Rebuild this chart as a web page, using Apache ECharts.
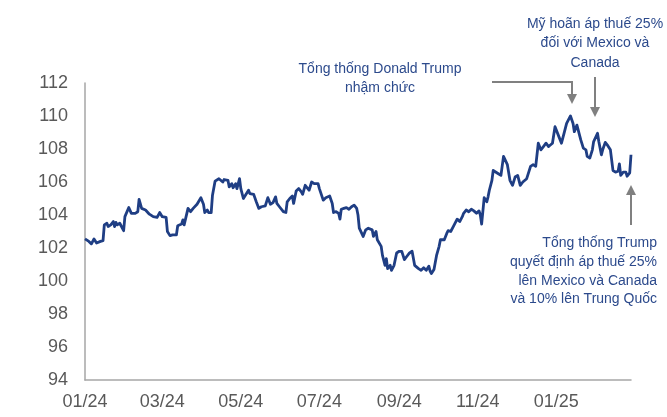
<!DOCTYPE html>
<html>
<head>
<meta charset="utf-8">
<script src="https://cdn.jsdelivr.net/npm/echarts@6/dist/echarts.min.js"></script>
<style>
  html, body { margin: 0; padding: 0; background: #ffffff; }
  #chart { width: 667px; height: 417px; }
</style>
</head>
<body>
<div id="chart"></div>
<script>
// US Dollar Index (DXY), daily closes 01/2024 – 02/2025
const dates = [
  '2024-01-01','2024-01-04','2024-01-06','2024-01-08','2024-01-10','2024-01-13','2024-01-15','2024-01-16',
  '2024-01-18','2024-01-19','2024-01-21','2024-01-23','2024-01-24','2024-01-25','2024-01-26','2024-01-28',
  '2024-01-29','2024-01-31','2024-02-01','2024-02-04','2024-02-06','2024-02-09','2024-02-11','2024-02-12',
  '2024-02-14','2024-02-17','2024-02-20','2024-02-23','2024-02-26','2024-02-28','2024-03-01','2024-03-04',
  '2024-03-05','2024-03-07','2024-03-09','2024-03-12','2024-03-13','2024-03-16','2024-03-17','2024-03-18',
  '2024-03-21','2024-03-23','2024-03-25','2024-03-28','2024-03-31','2024-04-02','2024-04-03','2024-04-05',
  '2024-04-06','2024-04-08','2024-04-09','2024-04-11','2024-04-14','2024-04-15','2024-04-17','2024-04-18',
  '2024-04-21','2024-04-22','2024-04-24','2024-04-25','2024-04-27','2024-04-28','2024-04-30','2024-05-01',
  '2024-05-03','2024-05-04','2024-05-07','2024-05-08','2024-05-11','2024-05-13','2024-05-15','2024-05-17',
  '2024-05-20','2024-05-22','2024-05-24','2024-05-26','2024-05-28','2024-05-29','2024-05-31','2024-06-03',
  '2024-06-05','2024-06-06','2024-06-08','2024-06-10','2024-06-11','2024-06-13','2024-06-15','2024-06-17',
  '2024-06-18','2024-06-20','2024-06-23','2024-06-25','2024-06-27','2024-06-30','2024-07-01','2024-07-04',
  '2024-07-06','2024-07-09','2024-07-11','2024-07-12','2024-07-14','2024-07-16','2024-07-17','2024-07-18',
  '2024-07-20','2024-07-22','2024-07-24','2024-07-26','2024-07-28','2024-07-30','2024-07-31','2024-08-01',
  '2024-08-04','2024-08-06','2024-08-08','2024-08-11','2024-08-12','2024-08-14','2024-08-15','2024-08-18',
  '2024-08-19','2024-08-21','2024-08-22','2024-08-23','2024-08-25','2024-08-26','2024-08-28','2024-08-30',
  '2024-09-01','2024-09-03','2024-09-05','2024-09-07','2024-09-09','2024-09-11','2024-09-13','2024-09-16',
  '2024-09-18','2024-09-20','2024-09-22','2024-09-24','2024-09-25','2024-09-26','2024-09-28','2024-09-30',
  '2024-10-02','2024-10-03','2024-10-06','2024-10-08','2024-10-09','2024-10-11','2024-10-13','2024-10-14',
  '2024-10-16','2024-10-18','2024-10-20','2024-10-21','2024-10-23','2024-10-25','2024-10-27','2024-10-29',
  '2024-10-31','2024-11-02','2024-11-03','2024-11-04','2024-11-06','2024-11-08','2024-11-09','2024-11-10',
  '2024-11-12','2024-11-13','2024-11-17','2024-11-19','2024-11-21','2024-11-24','2024-11-26','2024-11-28',
  '2024-11-30','2024-12-02','2024-12-04','2024-12-06','2024-12-09','2024-12-12','2024-12-14','2024-12-16',
  '2024-12-18','2024-12-20','2024-12-22','2024-12-24','2024-12-26','2024-12-29','2024-12-31','2025-01-03',
  '2025-01-05','2025-01-07','2025-01-09','2025-01-11','2025-01-12','2025-01-14','2025-01-15','2025-01-17',
  '2025-01-18','2025-01-20','2025-01-22','2025-01-24','2025-01-25','2025-01-27','2025-01-29','2025-01-30',
  '2025-02-02','2025-02-03','2025-02-05','2025-02-06','2025-02-08','2025-02-10','2025-02-12','2025-02-14',
  '2025-02-16','2025-02-18','2025-02-19','2025-02-20','2025-02-22','2025-02-24','2025-02-25','2025-02-27',
  '2025-02-28'
];

const dxy = [
  102.55,102.4,102.25,102.55,102.3,102.4,102.45,103.4,
  103.5,103.3,103.4,103.6,103.3,103.55,103.4,103.5,
  103.4,103.05,103.9,104.45,104.1,104.1,104.2,104.95,
  104.4,104.3,104.05,103.9,103.85,104.15,103.9,103.85,
  103.0,102.75,102.8,102.8,103.35,103.45,103.7,103.4,
  104.4,104.2,104.4,104.65,105.05,104.65,104.15,104.3,
  104.15,104.15,105.2,106.05,106.2,106.25,106.0,106.15,
  106.1,105.7,105.9,105.65,105.9,105.6,106.2,105.6,
  105.0,105.0,105.5,105.3,105.25,104.8,104.4,104.5,
  104.55,105.05,104.65,104.75,105.1,104.7,104.5,104.2,
  104.15,104.8,105.0,105.15,104.7,105.45,105.6,105.4,
  105.25,105.8,105.5,106.0,105.9,105.9,105.6,104.9,
  105.05,105.15,104.7,104.15,104.2,104.1,103.75,104.35,
  104.4,104.45,104.35,104.5,104.6,104.4,104.0,103.2,
  102.7,103.1,103.2,103.1,102.7,103.0,102.5,102.1,
  101.55,100.95,101.35,100.75,100.95,100.65,100.95,101.7,
  101.8,101.8,101.3,101.5,101.7,101.8,100.95,100.75,
  100.65,100.8,100.65,100.9,100.6,100.45,100.7,101.55,
  102.1,102.5,102.5,102.9,103.05,103.0,103.3,103.45,
  103.75,103.6,103.9,104.1,104.3,104.2,104.35,104.25,
  104.1,104.25,104.0,103.45,105.05,104.8,105.1,105.5,
  106.1,106.7,106.5,106.4,107.55,107.05,106.1,105.8,
  106.3,106.4,105.8,106.0,106.2,106.95,107.05,106.95,
  108.35,107.95,108.15,108.35,108.15,108.35,109.35,108.75,
  108.35,108.95,109.55,109.85,110.0,109.55,109.05,109.45,
  109.35,108.55,108.05,107.95,107.55,107.45,107.95,108.45,
  108.95,108.45,107.65,107.95,108.4,108.2,107.95,106.7,
  106.6,106.65,107.1,106.4,106.6,106.6,106.35,106.55,
  107.65
];

// x-axis tick labels (first day of every other month)
const monthTicks = ['2024-01-01','2024-03-01','2024-05-01','2024-07-01','2024-09-01','2024-11-01','2025-01-01'];

// y-axis range
const yMin = 94, yMax = 112, yStep = 2;

// annotation texts
const noteInauguration = 'Tổng thống Donald Trump\nnhậm chức';
const noteDelay = 'Mỹ hoãn áp thuế 25%\nđối với Mexico và\nCanada';
const noteTariff = 'Tổng thống Trump\nquyết định áp thuế 25%\nlên Mexico và Canada\nvà 10% lên Trung Quốc';

function toTime(s) {
  const p = s.split('-').map(Number);
  return Date.UTC(p[0], p[1] - 1, p[2]);
}

const seriesData = dates.map((d, i) => [toTime(d), dxy[i]]);

const AXIS_GREY = '#a6a6a6';
const LABEL_GREY = '#595959';
const NAVY = '#1f3e84';
const NOTE_BLUE = '#2c4a8c';
const ARROW_GREY = '#808080';
const FONT = '"Liberation Sans", Arial, sans-serif';

const chart = echarts.init(document.getElementById('chart'), null, { renderer: 'canvas' });

const noteStyle = {
  fill: NOTE_BLUE,
  font: '14px ' + FONT,
  lineHeight: 19.5
};

chart.setOption({
  backgroundColor: '#ffffff',
  animation: false,
  grid: {
    left: 85, right: 36, top: 83, bottom: 37,
    containLabel: false
  },
  xAxis: {
    // timestamps on a linear scale, labelled at chosen month starts
    type: 'value',
    min: toTime(dates[0]),
    max: toTime(dates[dates.length - 1]),
    axisLine: { show: true, lineStyle: { color: AXIS_GREY, width: 1.5 } },
    axisTick: { show: false },
    splitLine: { show: false },
    axisLabel: {
      customValues: monthTicks.map(toTime),
      showMinLabel: true,
      showMaxLabel: true,
      hideOverlap: false,
      margin: 13,
      color: LABEL_GREY,
      fontSize: 18,
      fontFamily: FONT,
      formatter: function (v) {
        const d = new Date(v);
        const mm = String(d.getUTCMonth() + 1).padStart(2, '0');
        const yy = String(d.getUTCFullYear()).slice(2);
        return mm + '/' + yy;
      }
    }
  },
  yAxis: {
    type: 'value',
    min: yMin, max: yMax, interval: yStep,
    axisLine: { show: true, lineStyle: { color: AXIS_GREY, width: 1.5 } },
    axisTick: { show: false },
    splitLine: { show: false },
    axisLabel: {
      margin: 17,
      color: LABEL_GREY,
      fontSize: 18,
      fontFamily: FONT
    }
  },
  series: [{
    type: 'line',
    data: seriesData,
    showSymbol: false,
    symbol: 'none',
    lineStyle: { color: NAVY, width: 2.8, join: 'round' },
    z: 3
  }],
  graphic: [
    // inauguration note and elbow arrow
    { type: 'text', x: 380, y: 59,
      style: Object.assign({ text: noteInauguration, textAlign: 'center', textVerticalAlign: 'top' }, noteStyle) },
    { type: 'polyline', shape: { points: [[492, 82], [572, 82], [572, 95]] },
      style: { stroke: ARROW_GREY, lineWidth: 2, fill: null } },
    { type: 'polygon', shape: { points: [[567, 94], [577, 94], [572, 104]] },
      style: { fill: ARROW_GREY } },

    // tariff delay note and arrow
    { type: 'text', x: 595, y: 14,
      style: Object.assign({ text: noteDelay, textAlign: 'center', textVerticalAlign: 'top' }, noteStyle) },
    { type: 'line', shape: { x1: 595, y1: 77, x2: 595, y2: 108 },
      style: { stroke: ARROW_GREY, lineWidth: 2 } },
    { type: 'polygon', shape: { points: [[590, 107], [600, 107], [595, 117]] },
      style: { fill: ARROW_GREY } },

    // tariff decision note and upward arrow
    { type: 'text', x: 657, y: 234,
      style: Object.assign({ text: noteTariff, textAlign: 'right', textVerticalAlign: 'top' }, noteStyle, { lineHeight: 18.7 }) },
    { type: 'line', shape: { x1: 631, y1: 225, x2: 631, y2: 194 },
      style: { stroke: ARROW_GREY, lineWidth: 2 } },
    { type: 'polygon', shape: { points: [[626, 195], [636, 195], [631, 185]] },
      style: { fill: ARROW_GREY } }
  ]
});
</script>
</body>
</html>
